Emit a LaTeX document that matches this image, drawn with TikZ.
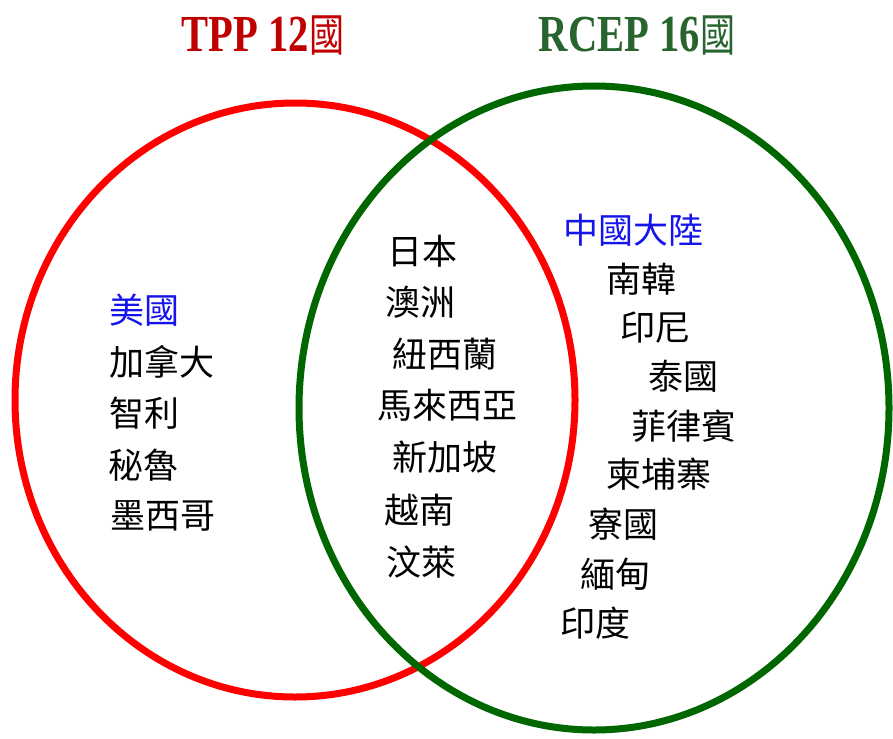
\documentclass[tikz,border=0pt]{standalone}
\usepackage{fontspec}
\setmainfont{Liberation Serif}
\newfontfamily\cjk{Noto Sans CJK TC}
\definecolor{ttlred}{RGB}{192,0,0}
\definecolor{ttlgreen}{RGB}{40,100,45}
\definecolor{ringgreen}{RGB}{0,102,0}
\definecolor{ringred}{RGB}{255,0,0}
\definecolor{lblblue}{RGB}{20,20,235}
\begin{document}
\begin{tikzpicture}[x=1pt,y=-1pt,
  lbl/.style={font=\cjk\fontsize{35}{38}\selectfont, inner sep=0pt, text=black},
  hilite/.style={lbl, text=lblblue},
  ring/.style={line width=7pt},
  ttl/.style={anchor=base, inner sep=0pt}]
\useasboundingbox (0,0) rectangle (893,738);
% circles
\draw[ring, ringred] (295,400) ellipse [x radius=280, y radius=297];
\draw[ring, ringgreen] (594,408) ellipse [x radius=295, y radius=322];
% titles
\node[ttl, text=ttlred] (tpp) at (263,52) {\scalebox{0.78}[1]{\fontsize{52}{54}\selectfont\bfseries TPP 12{\mdseries\cjk\fontsize{45}{47}\selectfont 國}}};
\node[ttl, text=ttlgreen] (rcep) at (637,52) {\scalebox{0.78}[1]{\fontsize{52}{54}\selectfont\bfseries RCEP 16{\mdseries\cjk\fontsize{45}{47}\selectfont 國}}};
% TPP only
\node[hilite] (us) at (144,310) {美國};
\node[lbl] (ca) at (162,362) {加拿大};
\node[lbl] (cl) at (144,413) {智利};
\node[lbl] (pe) at (143,465) {秘魯};
\node[lbl] (mx) at (163,516) {墨西哥};
% both
\node[lbl] (jp) at (422,251) {日本};
\node[lbl] (au) at (420,302) {澳洲};
\node[lbl] (nz) at (445,354) {紐西蘭};
\node[lbl] (my) at (447,405) {馬來西亞};
\node[lbl] (sg) at (445,457) {新加坡};
\node[lbl] (vn) at (419,510) {越南};
\node[lbl] (bn) at (421,562) {汶萊};
% RCEP only
\node[hilite] (cn) at (633,230) {中國大陸};
\node[lbl] (kr) at (641,279) {南韓};
\node[lbl] (id) at (655,328) {印尼};
\node[lbl] (th) at (683,376) {泰國};
\node[lbl] (ph) at (684,426) {菲律賓};
\node[lbl] (kh) at (659,474) {柬埔寨};
\node[lbl] (la) at (623,524) {寮國};
\node[lbl] (mm) at (615,574) {緬甸};
\node[lbl] (in) at (595,623) {印度};
\end{tikzpicture}
\end{document}
